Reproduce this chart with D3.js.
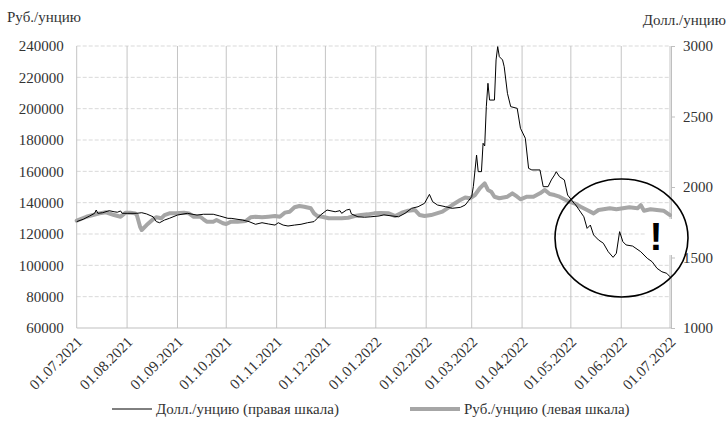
<!DOCTYPE html>
<html><head><meta charset="utf-8">
<script src="https://cdn.jsdelivr.net/npm/d3@7"></script>
<style>
body{margin:0;background:#fff}
</style>
</head><body>
<svg id="c" width="727" height="421"></svg>
<script>
// ---- data ----
const blackDates = ["2021-07-01","2021-07-05","2021-07-09","2021-07-12","2021-07-13","2021-07-14","2021-07-17","2021-07-21","2021-07-24","2021-07-26","2021-07-28","2021-07-29","2021-08-01","2021-08-07","2021-08-10","2021-08-13","2021-08-17","2021-08-19","2021-08-21","2021-08-24","2021-08-27","2021-09-01","2021-09-07","2021-09-13","2021-09-17","2021-09-23","2021-09-27","2021-10-02","2021-10-04","2021-10-11","2021-10-15","2021-10-19","2021-10-23","2021-10-27","2021-10-31","2021-11-02","2021-11-05","2021-11-08","2021-11-12","2021-11-16","2021-11-20","2021-11-24","2021-11-26","2021-11-28","2021-12-02","2021-12-07","2021-12-10","2021-12-11","2021-12-14","2021-12-16","2021-12-17","2021-12-21","2021-12-25","2021-12-29","2022-01-03","2022-01-06","2022-01-11","2022-01-15","2022-01-19","2022-01-23","2022-01-27","2022-01-31","2022-02-03","2022-02-05","2022-02-08","2022-02-13","2022-02-17","2022-02-22","2022-02-25","2022-03-01","2022-03-02","2022-03-04","2022-03-05","2022-03-07","2022-03-08","2022-03-09","2022-03-10","2022-03-11","2022-03-12","2022-03-15","2022-03-16","2022-03-17","2022-03-18","2022-03-20","2022-03-21","2022-03-23","2022-03-25","2022-03-29","2022-03-31","2022-04-03","2022-04-05","2022-04-07","2022-04-12","2022-04-14","2022-04-17","2022-04-19","2022-04-21","2022-04-22","2022-04-24","2022-04-27","2022-04-29","2022-05-03","2022-05-04","2022-05-07","2022-05-09","2022-05-11","2022-05-13","2022-05-15","2022-05-18","2022-05-21","2022-05-24","2022-05-27","2022-05-29","2022-05-31","2022-06-02","2022-06-04","2022-06-08","2022-06-13","2022-06-17","2022-06-20","2022-06-23","2022-06-26","2022-06-29","2022-07-01"];
const blackValues = [127900,129400,131500,133200,135300,133200,133600,134900,134200,133900,134700,133200,133200,133200,133600,132800,131000,127900,127200,128900,130000,132100,133200,132100,132600,132600,131500,130000,130000,128900,127900,126200,127200,126400,125700,127200,125700,125100,125700,126200,127200,127900,130000,132100,135300,134200,134900,133200,135300,135800,132800,131000,130700,131000,131500,132200,131500,131000,133200,136400,137400,139600,145300,140600,138500,137400,136400,137000,138500,143800,150200,170400,159800,159800,177900,176200,201300,216200,205500,205500,231100,239600,233200,231100,226800,209800,201300,200200,187500,181100,161900,160900,160900,150200,150200,154500,157700,159800,156600,154500,144900,139600,138500,134000,131000,123600,125700,119400,116200,114100,108700,105100,107700,121500,115100,113000,112300,108700,104500,102300,98100,95900,94900,92700];

const grayDates = ["2021-07-01","2021-07-07","2021-07-11","2021-07-15","2021-07-19","2021-07-24","2021-07-28","2021-07-31","2021-08-03","2021-08-06","2021-08-07","2021-08-09","2021-08-10","2021-08-13","2021-08-17","2021-08-19","2021-08-22","2021-08-24","2021-08-27","2021-08-31","2021-09-05","2021-09-08","2021-09-11","2021-09-15","2021-09-17","2021-09-19","2021-09-23","2021-09-25","2021-09-29","2021-10-01","2021-10-04","2021-10-08","2021-10-13","2021-10-16","2021-10-19","2021-10-23","2021-10-27","2021-10-31","2021-11-03","2021-11-06","2021-11-09","2021-11-12","2021-11-15","2021-11-18","2021-11-22","2021-11-24","2021-11-26","2021-11-29","2021-12-03","2021-12-07","2021-12-11","2021-12-15","2021-12-19","2021-12-23","2021-12-27","2021-12-31","2022-01-04","2022-01-09","2022-01-13","2022-01-17","2022-01-21","2022-01-25","2022-01-28","2022-01-31","2022-02-04","2022-02-11","2022-02-17","2022-02-22","2022-02-25","2022-02-28","2022-03-03","2022-03-06","2022-03-09","2022-03-11","2022-03-13","2022-03-15","2022-03-18","2022-03-23","2022-03-26","2022-03-29","2022-03-31","2022-04-04","2022-04-08","2022-04-12","2022-04-15","2022-04-18","2022-04-21","2022-04-24","2022-04-27","2022-04-30","2022-05-04","2022-05-07","2022-05-11","2022-05-15","2022-05-18","2022-05-21","2022-05-25","2022-05-29","2022-06-02","2022-06-06","2022-06-11","2022-06-13","2022-06-15","2022-06-19","2022-06-23","2022-06-27","2022-07-01"];
const grayValues = [1761,1789,1801,1813,1821,1801,1789,1818,1818,1813,1801,1718,1695,1730,1771,1785,1778,1801,1813,1813,1818,1813,1789,1789,1771,1754,1754,1766,1743,1738,1754,1754,1759,1785,1789,1785,1789,1794,1789,1818,1825,1856,1865,1860,1849,1813,1794,1789,1778,1778,1778,1782,1794,1801,1806,1813,1815,1813,1794,1818,1832,1837,1801,1794,1801,1825,1872,1908,1925,1920,1943,1991,2026,1979,1967,1931,1920,1931,1955,1931,1913,1931,1931,1955,1979,1950,1943,1931,1913,1896,1880,1860,1837,1813,1837,1842,1849,1842,1849,1856,1849,1872,1832,1842,1837,1832,1801];

const leftTicks = [60000,80000,100000,120000,140000,160000,180000,200000,220000,240000];
const rightTicks = [1000,1500,2000,2500,3000];
const xTickLabels = ["01.07.2021","01.08.2021","01.09.2021","01.10.2021","01.11.2021","01.12.2021","01.01.2022","01.02.2022","01.03.2022","01.04.2022","01.05.2022","01.06.2022","01.07.2022"];
const legendLabels = ["Долл./унцию (правая шкала)","Руб./унцию (левая шкала)"];
const leftTitle = "Руб./унцию";
const rightTitle = "Долл./унцию";

// ---- pick an installed serif face ----
function pickFont(cands) {
  const ctx = document.createElement("canvas").getContext("2d");
  const s = "Руб./унцию 0123456789 mmmWWWiiilll";
  const w = f => { ctx.font = "15px " + f; return ctx.measureText(s).width; };
  for (const f of cands) {
    const q = `"${f}"`;
    if (w(q + ",monospace") !== w("monospace") || w(q + ",sans-serif") !== w("sans-serif")) return q;
  }
  return "serif";
}
const FONT = pickFont(["Liberation Serif","Times New Roman","Tinos","DejaVu Serif","Noto Serif","FreeSerif","Nimbus Roman","Nimbus Roman No9 L"]) + ",serif";

// ---- drawing ----
const svg = d3.select("#c");
const L = 76.7, R = 670, T = 46, B = 328;
const parse = d3.timeParse("%Y-%m-%d");
const parseLbl = d3.timeParse("%d.%m.%Y");
const x = d3.scaleTime().domain([parseLbl(xTickLabels[0]), parseLbl(xTickLabels[xTickLabels.length-1])]).range([L, R]);
const yL = d3.scaleLinear().domain([60000, 240000]).range([B, T]);
const yR = d3.scaleLinear().domain([1000, 3000]).range([B, T]);

// horizontal dashed gridlines
svg.append("g").selectAll("line").data(leftTicks.slice(1)).join("line")
  .attr("x1", L).attr("x2", R).attr("y1", d => yL(d)).attr("y2", d => yL(d))
  .attr("stroke", "#d9d9d9").attr("stroke-width", 1).attr("stroke-dasharray", "4,2");

// vertical gridlines at month starts
const tickDates = xTickLabels.map(parseLbl);
svg.append("g").selectAll("line").data(tickDates).join("line")
  .attr("x1", d => x(d)).attr("x2", d => x(d)).attr("y1", T).attr("y2", B)
  .attr("stroke", "#c4c4c4").attr("stroke-width", 1);

// bottom axis line
svg.append("line").attr("x1", L).attr("x2", R + 1).attr("y1", B).attr("y2", B)
  .attr("stroke", "#bfbfbf");

// left axis labels
const gl = svg.append("g").attr("transform", `translate(${L},0)`)
  .call(d3.axisLeft(yL).tickValues(leftTicks).tickFormat(d3.format("d")).tickSize(0).tickPadding(13));
gl.select(".domain").remove();
gl.attr("font-family", null);

// right axis
const gr = svg.append("g").attr("transform", `translate(${R + 1},0)`)
  .call(d3.axisRight(yR).tickValues(rightTicks).tickFormat(d3.format("d")).tickSize(4).tickPadding(8));
gr.select(".domain").attr("stroke", "#bfbfbf");
gr.selectAll(".tick line").attr("stroke", "#bfbfbf");
gr.attr("font-family", null);

// bottom axis labels (rotated)
const gb = svg.append("g").attr("transform", `translate(0,${B})`)
  .call(d3.axisBottom(x).tickValues(tickDates).tickFormat((d, i) => xTickLabels[i]).tickSize(0).tickPadding(0));
gb.select(".domain").remove();
gb.attr("font-family", null);
gb.selectAll("text").attr("text-anchor", "end").attr("dy", null).attr("y", 0)
  .attr("transform", "translate(6,15) rotate(-45)");

// lines
const grayData = grayDates.map((d, i) => ({ d: parse(d), v: grayValues[i] }));
const blackData = blackDates.map((d, i) => ({ d: parse(d), v: blackValues[i] }));
svg.append("path").datum(grayData)
  .attr("d", d3.line().x(p => x(p.d)).y(p => yR(p.v)))
  .attr("fill", "none").attr("stroke", "#a6a6a6").attr("stroke-width", 4)
  .attr("stroke-linejoin", "round").attr("stroke-linecap", "round");
svg.append("path").datum(blackData)
  .attr("d", d3.line().x(p => x(p.d)).y(p => yL(p.v)))
  .attr("fill", "none").attr("stroke", "#000").attr("stroke-width", 1)
  .attr("stroke-linejoin", "round");

// titles
svg.append("text").attr("x", 7).attr("y", 22).text(leftTitle);
svg.append("text").attr("x", 726).attr("y", 25).attr("text-anchor", "end").text(rightTitle);

// legend
const lg = svg.append("g");
lg.append("line").attr("x1", 112).attr("x2", 152).attr("y1", 409).attr("y2", 409).attr("stroke", "#000").attr("stroke-width", 1);
lg.append("text").attr("x", 156).attr("y", 414).text(legendLabels[0]);
lg.append("line").attr("x1", 410).attr("x2", 460).attr("y1", 409).attr("y2", 409).attr("stroke", "#a6a6a6").attr("stroke-width", 4);
lg.append("text").attr("x", 464).attr("y", 414).text(legendLabels[1]);

// common text style
svg.selectAll("text").attr("font-family", FONT).attr("font-size", 15).style("font-family", FONT).attr("fill", "#333");

// annotation ellipse and exclamation
svg.append("ellipse").attr("cx", 621.5).attr("cy", 238).attr("rx", 66.5).attr("ry", 59)
  .attr("fill", "none").attr("stroke", "#000").attr("stroke-width", 1.6);
svg.append("rect").attr("x", 645).attr("y", 219).attr("width", 31).attr("height", 36).attr("fill", "#fff");
svg.append("text").attr("x", 656).attr("y", 250).attr("text-anchor", "middle")
  .style("font-size", "39px").style("font-weight", "bold").style("font-family", "'Liberation Sans',Arial,sans-serif")
  .attr("fill", "#000").text("!");
</script>
</body></html>
